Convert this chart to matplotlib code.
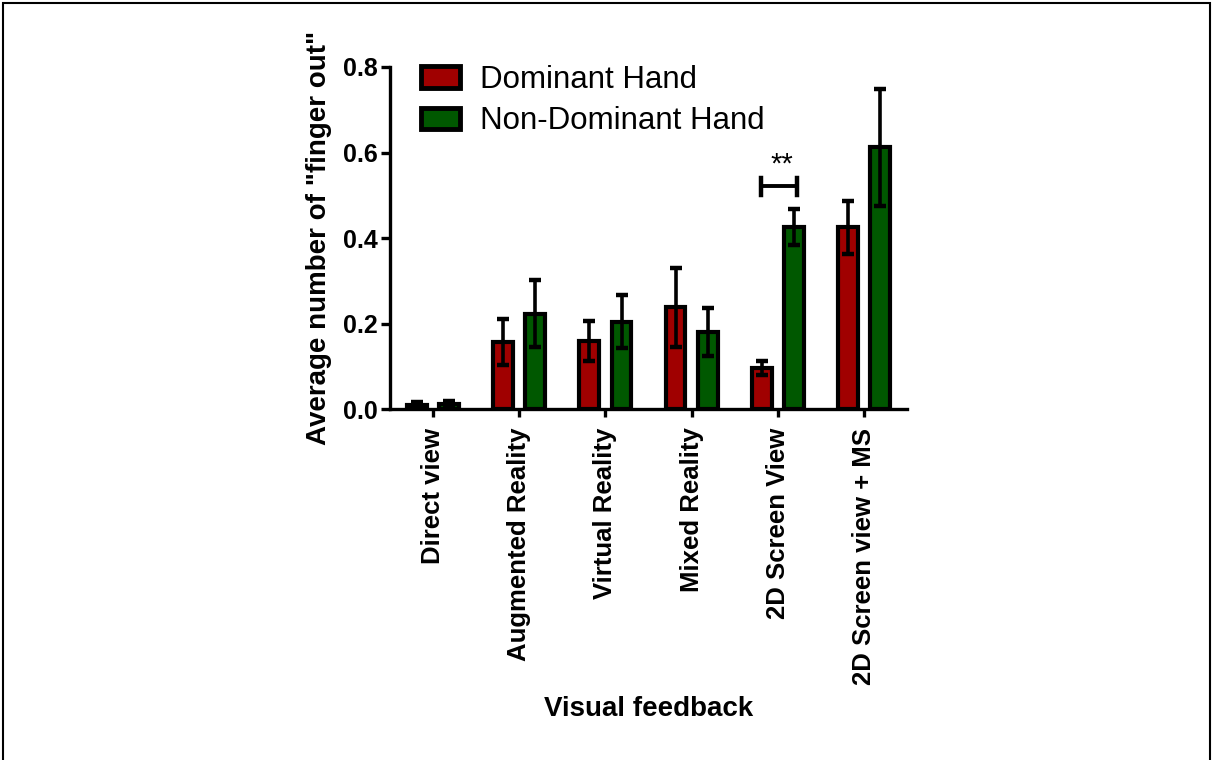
import matplotlib.pyplot as plt
import numpy as np
from matplotlib.patches import Rectangle

# data
categories = ['Direct view', 'Augmented Reality', 'Virtual Reality',
              'Mixed Reality', '2D Screen View', '2D Screen view + MS']
dominant = [0.010, 0.158, 0.160, 0.239, 0.097, 0.426]
dominant_err = [0.007, 0.053, 0.046, 0.092, 0.017, 0.062]
non_dominant = [0.012, 0.224, 0.205, 0.181, 0.426, 0.612]
non_dominant_err = [0.008, 0.079, 0.062, 0.057, 0.042, 0.137]
yticks = [0.0, 0.2, 0.4, 0.6, 0.8]

plt.rcParams['font.family'] = ['Liberation Sans', 'DejaVu Sans']

fig = plt.figure(figsize=(12.12, 7.6), dpi=100)
ax = fig.add_axes([0.3218, 0.4612, 0.4266, 0.4507])

x = np.arange(len(categories))
off = 0.187
w = 0.23
red = '#a00000'
green = '#005800'

ax.bar(x - off, dominant, w, color=red, edgecolor='black', linewidth=3,
       label='Dominant Hand', zorder=2)
ax.bar(x + off, non_dominant, w, color=green, edgecolor='black', linewidth=3,
       label='Non-Dominant Hand', zorder=2)
ax.errorbar(x - off, dominant, yerr=dominant_err, fmt='none', ecolor='black',
            elinewidth=2.6, capsize=4.5, capthick=3.2, zorder=3)
ax.errorbar(x + off, non_dominant, yerr=non_dominant_err, fmt='none', ecolor='black',
            elinewidth=2.6, capsize=4.5, capthick=3.2, zorder=3)

# significance bracket
bx0, bx1, by = 4 - 0.2, 4 + 0.22, 0.521
ax.plot([bx0, bx1], [by, by], color='black', lw=2.8, solid_capstyle='butt')
ax.plot([bx0, bx0], [by - 0.02, by + 0.02], color='black', lw=3.2)
ax.plot([bx1, bx1], [by - 0.02, by + 0.02], color='black', lw=3.2)
ax.text(4.05, 0.572, '**', ha='center', va='center', fontsize=21)

ax.set_xlim(-0.5, 5.5)
ax.set_ylim(0, 0.8)
ax.set_yticks(yticks)
ax.set_yticklabels(['%.1f' % v for v in yticks], fontsize=18, fontweight='bold')
ax.set_xticks(x)
ax.set_xticklabels(categories, rotation=90, fontsize=18.5, fontweight='bold')
for s in ['top', 'right']:
    ax.spines[s].set_visible(False)
for s in ['left', 'bottom']:
    ax.spines[s].set_linewidth(2.4)
ax.tick_params(axis='y', length=6.5, width=2.4, pad=2)
ax.tick_params(axis='x', length=6, width=2.4, pad=7)

ax.set_ylabel('Average number of "finger out"', fontsize=20, fontweight='bold', labelpad=8)
ax.set_xlabel('Visual feedback', fontsize=20, fontweight='bold', labelpad=8)

leg = ax.legend(loc='upper left', bbox_to_anchor=(0.06, 1.005), frameon=False,
                fontsize=22.5, handlelength=1.26, handleheight=0.7, handletextpad=0.63,
                labelspacing=0.36, borderpad=0, borderaxespad=0)
for h in leg.legend_handles:
    h.set_linewidth(3.5)

# outer border
fig.patches.append(Rectangle((3 / 1212, -0.05), 1207 / 1212, 1.05 - 3 / 760,
                             transform=fig.transFigure, fill=False,
                             edgecolor='black', linewidth=1.5))

fig.savefig('out.png', dpi=100)
